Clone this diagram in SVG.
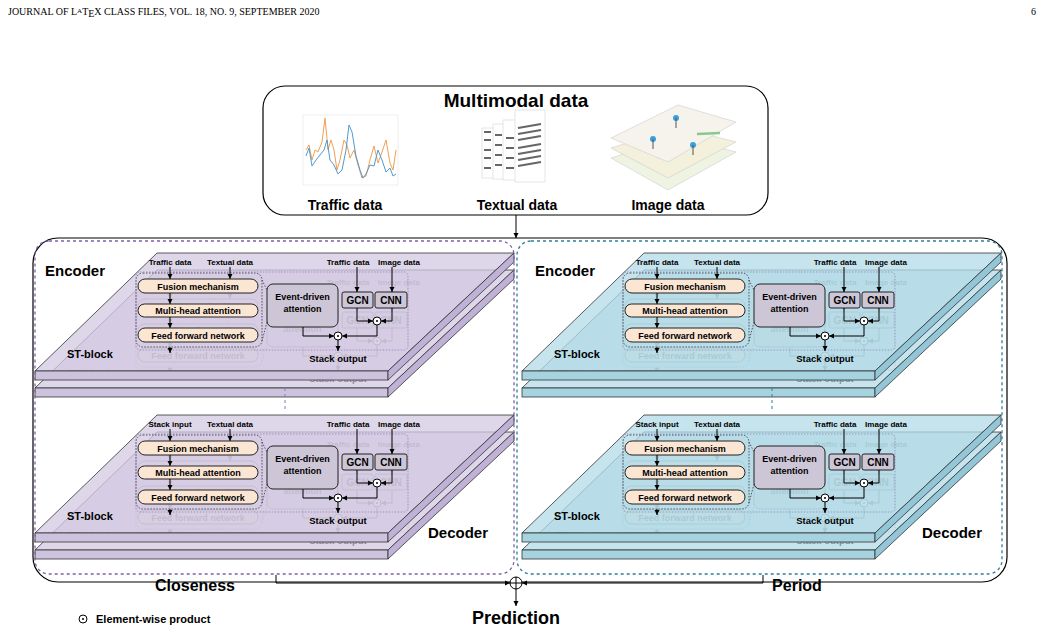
<svg xmlns="http://www.w3.org/2000/svg" xmlns:xlink="http://www.w3.org/1999/xlink" width="1041" height="632" viewBox="0 0 1041 632">
<style>
text{font-family:"Liberation Sans",Arial,sans-serif;fill:#000}
.hdr{font-family:"Liberation Serif","Times New Roman",serif;font-size:10px;font-weight:normal}
.b{font-weight:bold}
.L{font-weight:bold}
.sm{font-size:8px;font-weight:bold}
.pill{fill:#fbe6d4;stroke:#222;stroke-width:1}
.box{fill:#cdc6d6;stroke:#222;stroke-width:1}
.ln{fill:none;stroke:#000;stroke-width:1}
.dot{fill:none;stroke:#333;stroke-width:0.8;stroke-dasharray:1.5,1.5}
.top{fill:var(--top);fill-opacity:0.75;stroke:#333;stroke-width:0.8}
.fr{fill:var(--fr);stroke:#333;stroke-width:0.8}
.sd{fill:var(--sd);stroke:#333;stroke-width:0.8}
</style>
<defs>
<marker id="ar" markerWidth="6" markerHeight="6" refX="5" refY="3" orient="auto" markerUnits="userSpaceOnUse"><path d="M0,0.5 L5,3 L0,5.5 z" fill="#000"/></marker>
<g id="content">
<text class="sm" x="230" y="265" text-anchor="middle">Textual data</text>
<text class="sm" x="348" y="265" text-anchor="middle">Traffic data</text>
<text class="sm" x="399" y="265" text-anchor="middle">Image data</text>
<rect x="136" y="273" width="126" height="74" rx="7" class="dot"/>
<rect x="136" y="272" width="272" height="78" rx="4" fill="none" stroke="#8a78b0" stroke-width="0.7" stroke-dasharray="1.5,1.5"/>
<line x1="170" y1="267" x2="170" y2="279" class="ln" marker-end="url(#ar)"/>
<line x1="230" y1="267" x2="230" y2="279" class="ln" marker-end="url(#ar)"/>
<rect x="138" y="279" width="120" height="14" rx="7" class="pill"/>
<text x="198" y="289.5" text-anchor="middle" class="b" font-size="9">Fusion mechanism</text>
<line x1="170" y1="293" x2="170" y2="304" class="ln" marker-end="url(#ar)"/>
<rect x="138" y="304" width="120" height="13" rx="6.5" class="pill"/>
<text x="198" y="314" text-anchor="middle" class="b" font-size="9">Multi-head attention</text>
<line x1="170" y1="317" x2="170" y2="328" class="ln" marker-end="url(#ar)"/>
<rect x="138" y="328" width="120" height="14" rx="7" class="pill"/>
<text x="198" y="338.5" text-anchor="middle" font-size="9" font-weight="bold">Feed forward network</text>
<line x1="170" y1="347" x2="170" y2="353" class="ln" marker-end="url(#ar)"/>
<line x1="262" y1="280" x2="267" y2="290" class="dot"/>
<line x1="262" y1="341" x2="267" y2="322" class="dot"/>
<rect x="267" y="284" width="71" height="43" rx="6" class="box"/>
<text x="302.5" y="300" text-anchor="middle" class="b" font-size="9">Event-driven</text>
<text x="302.5" y="312" text-anchor="middle" class="b" font-size="9">attention</text>
<rect x="342" y="292" width="31" height="16" rx="2" class="box"/>
<text x="357.5" y="304" text-anchor="middle" class="b" font-size="10">GCN</text>
<rect x="375" y="292" width="32" height="16" rx="2" class="box"/>
<text x="391" y="304" text-anchor="middle" class="b" font-size="10">CNN</text>
<line x1="357" y1="267" x2="357" y2="292" class="ln" marker-end="url(#ar)"/>
<line x1="392" y1="267" x2="392" y2="292" class="ln" marker-end="url(#ar)"/>
<polyline points="357,308 357,321 373,321" class="ln" marker-end="url(#ar)"/>
<polyline points="392,308 392,321 381,321" class="ln" marker-end="url(#ar)"/>
<circle cx="377" cy="321" r="4" fill="#fff" stroke="#000"/><circle cx="377" cy="321" r="1" fill="#000"/>
<polyline points="303,327 303,336 334,336" class="ln" marker-end="url(#ar)"/>
<polyline points="377,325 377,336 342,336" class="ln" marker-end="url(#ar)"/>
<circle cx="338" cy="336" r="4" fill="#fff" stroke="#000"/><circle cx="338" cy="336" r="1" fill="#000"/>
<line x1="338" y1="340" x2="338" y2="351" class="ln" marker-end="url(#ar)"/>
<text x="338" y="362" text-anchor="middle" class="b" font-size="9.5">Stack output</text>
<text x="67" y="358" class="b" font-size="11">ST-block</text>
</g>
<g id="slab">
<polygon points="157,253 514,253 388,371 35,371" class="top"/>
<rect x="35" y="371" width="353" height="9" class="fr"/>
<polygon points="388,371 514,253 514,262 388,380" class="sd"/>
</g>
<g id="unit">
<use xlink:href="#slab" transform="translate(0,17)"/>
<g opacity="0.35"><use xlink:href="#content" transform="translate(0,20)"/><text class="sm" x="170" y="285" text-anchor="middle">Traffic data</text></g>
<use xlink:href="#slab"/>
<use xlink:href="#content"/>
</g>
</defs>

<g id="header">
<text class="hdr" x="8" y="15">JOURNAL OF L<tspan font-size="7" dy="-2">A</tspan><tspan dy="2">T</tspan><tspan dy="2">E</tspan><tspan dy="-2">X CLASS FILES, VOL. 18, NO. 9, SEPTEMBER 2020</tspan></text>
<text class="hdr" x="1031" y="15">6</text>
</g>

<g id="multimodal">
<rect x="263" y="86" width="505" height="129" rx="22" fill="#fff" stroke="#000" stroke-width="1.2"/>
<text x="516" y="107" text-anchor="middle" font-size="19" class="L">Multimodal data</text>
<g id="chart">
<rect x="303" y="115" width="95" height="70" fill="#fff" stroke="#ddd" stroke-width="0.5"/>
<polyline points="306,150 309,145 312,160 315,150 318,152 322,142 325,118 328,150 331,140 334,150 337,170 340,160 344,140 347,145 350,158 354,150 358,165 362,178 366,176 370,160 374,146 378,163 382,152 386,140 390,163 393,170 396,150" fill="none" stroke="#f0a050" stroke-width="1"/>
<polyline points="306,156 309,148 312,166 316,160 320,155 324,150 327,140 330,160 334,165 338,174 342,170 346,150 349,125 352,132 356,156 360,170 363,178 366,174 370,165 374,166 378,150 382,160 386,172 390,168 393,176 396,174" fill="none" stroke="#4f9bd0" stroke-width="1"/>
</g>
<g id="pages" fill="#fff" stroke="#ccc" stroke-width="0.5">
<rect x="482" y="128" width="12" height="50"/><rect x="493" y="124" width="12" height="55"/><rect x="503" y="120" width="14" height="60"/><rect x="515" y="110" width="30" height="72"/>
<g stroke="#666" stroke-width="2"><line x1="484" y1="132" x2="491" y2="132"/><line x1="484" y1="140" x2="491" y2="140"/><line x1="484" y1="150" x2="491" y2="150"/><line x1="484" y1="158" x2="491" y2="158"/><line x1="484" y1="168" x2="491" y2="168"/>
<line x1="495" y1="135" x2="502" y2="135"/><line x1="495" y1="145" x2="502" y2="145"/><line x1="495" y1="155" x2="502" y2="155"/><line x1="495" y1="165" x2="502" y2="165"/>
<line x1="506" y1="138" x2="514" y2="138"/><line x1="506" y1="148" x2="514" y2="148"/><line x1="506" y1="158" x2="514" y2="158"/><line x1="506" y1="168" x2="514" y2="168"/>
<line x1="518" y1="128" x2="541" y2="124"/><line x1="518" y1="134" x2="541" y2="130"/><line x1="518" y1="140" x2="541" y2="136"/><line x1="518" y1="148" x2="541" y2="144"/><line x1="518" y1="154" x2="541" y2="150"/><line x1="518" y1="160" x2="541" y2="156"/><line x1="518" y1="166" x2="541" y2="162"/></g>
</g>
<g id="maps" stroke="#ccc" stroke-width="0.6">
<polygon points="611,158 678,137 736,152 668,190" fill="#eef3e2"/>
<polygon points="611,148 678,127 736,142 668,178" fill="#f3f0dc"/>
<polygon points="611,138 678,105 736,122 668,162" fill="#f5f3ec"/>
<line x1="697" y1="134" x2="720" y2="133" stroke="#8bc88b" stroke-width="2.5"/>
<g fill="#3aa0e0" stroke="none"><circle cx="676" cy="118" r="3"/><circle cx="653" cy="139" r="3"/><circle cx="693" cy="145" r="3"/></g>
<g stroke="#555" stroke-width="1"><line x1="676" y1="118" x2="676" y2="128"/><line x1="653" y1="139" x2="653" y2="149"/><line x1="693" y1="145" x2="693" y2="155"/></g>
</g>
<text x="345" y="210" text-anchor="middle" font-size="14" class="L">Traffic data</text>
<text x="517" y="210" text-anchor="middle" font-size="14" class="L">Textual data</text>
<text x="668" y="210" text-anchor="middle" font-size="14" class="L">Image data</text>
</g>

<rect id="outer" x="33" y="238" width="974" height="344" rx="25" fill="none" stroke="#000" stroke-width="1.2"/>

<g id="closeness-enc" style="--top:#d3cae2;--fr:#cdc3df;--sd:#bfb2d6">
<use xlink:href="#unit"/>
<text class="sm" x="170" y="265" text-anchor="middle">Traffic data</text>
<text x="45" y="276" font-size="15" class="L">Encoder</text>
</g>
<g id="closeness-dec" style="--top:#d3cae2;--fr:#cdc3df;--sd:#bfb2d6" transform="translate(0,162)">
<use xlink:href="#unit"/>
<text class="sm" x="170" y="265" text-anchor="middle">Stack input</text>
<text x="428" y="376" font-size="15" class="L">Decoder</text>
</g>
<g id="period-enc" style="--top:#b3dbe7;--fr:#a6d3e0;--sd:#93c6d6" transform="translate(487,0)">
<use xlink:href="#unit"/>
<text class="sm" x="170" y="265" text-anchor="middle">Traffic data</text>
<text x="48" y="276" font-size="15" class="L">Encoder</text>
</g>
<g id="period-dec" style="--top:#b3dbe7;--fr:#a6d3e0;--sd:#93c6d6" transform="translate(487,162)">
<use xlink:href="#unit"/>
<text class="sm" x="170" y="265" text-anchor="middle">Stack input</text>
<text x="435" y="376" font-size="15" class="L">Decoder</text>
</g>

<rect id="closeness" x="35" y="241" width="479" height="333" rx="14" fill="none" stroke="#7d62a8" stroke-width="1.3" stroke-dasharray="3,3"/>
<rect id="period" x="517" y="241" width="485" height="333" rx="14" fill="none" stroke="#2c7f96" stroke-width="1.3" stroke-dasharray="3,3"/>
<line x1="285" y1="388" x2="285" y2="412" stroke="#8a78b0" stroke-dasharray="3,3"/>
<line x1="772" y1="388" x2="772" y2="412" stroke="#2c7f96" stroke-dasharray="3,3"/>

<g id="connectors">
<line x1="516" y1="215" x2="516" y2="238" class="ln" marker-end="url(#ar)"/>
<polyline points="276,575 276,583 510,583" class="ln" marker-end="url(#ar)"/>
<polyline points="763,575 763,583 522,583" class="ln" marker-end="url(#ar)"/>
<line x1="516" y1="589" x2="516" y2="606" class="ln" marker-end="url(#ar)"/>
</g>
<g id="plus"><circle cx="516" cy="583" r="6" fill="#fff" stroke="#000"/><path d="M510,583 H522 M516,577 V589" stroke="#000"/></g>
<text x="195" y="591" text-anchor="middle" font-size="16" class="L">Closeness</text>
<text x="797" y="591" text-anchor="middle" font-size="16" class="L">Period</text>
<text x="516" y="624" text-anchor="middle" font-size="18" class="L">Prediction</text>
<g id="legend"><circle cx="83" cy="619" r="4" fill="none" stroke="#000"/><circle cx="83" cy="619" r="1" fill="#000"/><text x="96" y="623" font-size="11" class="b">Element-wise product</text></g>
</svg>
